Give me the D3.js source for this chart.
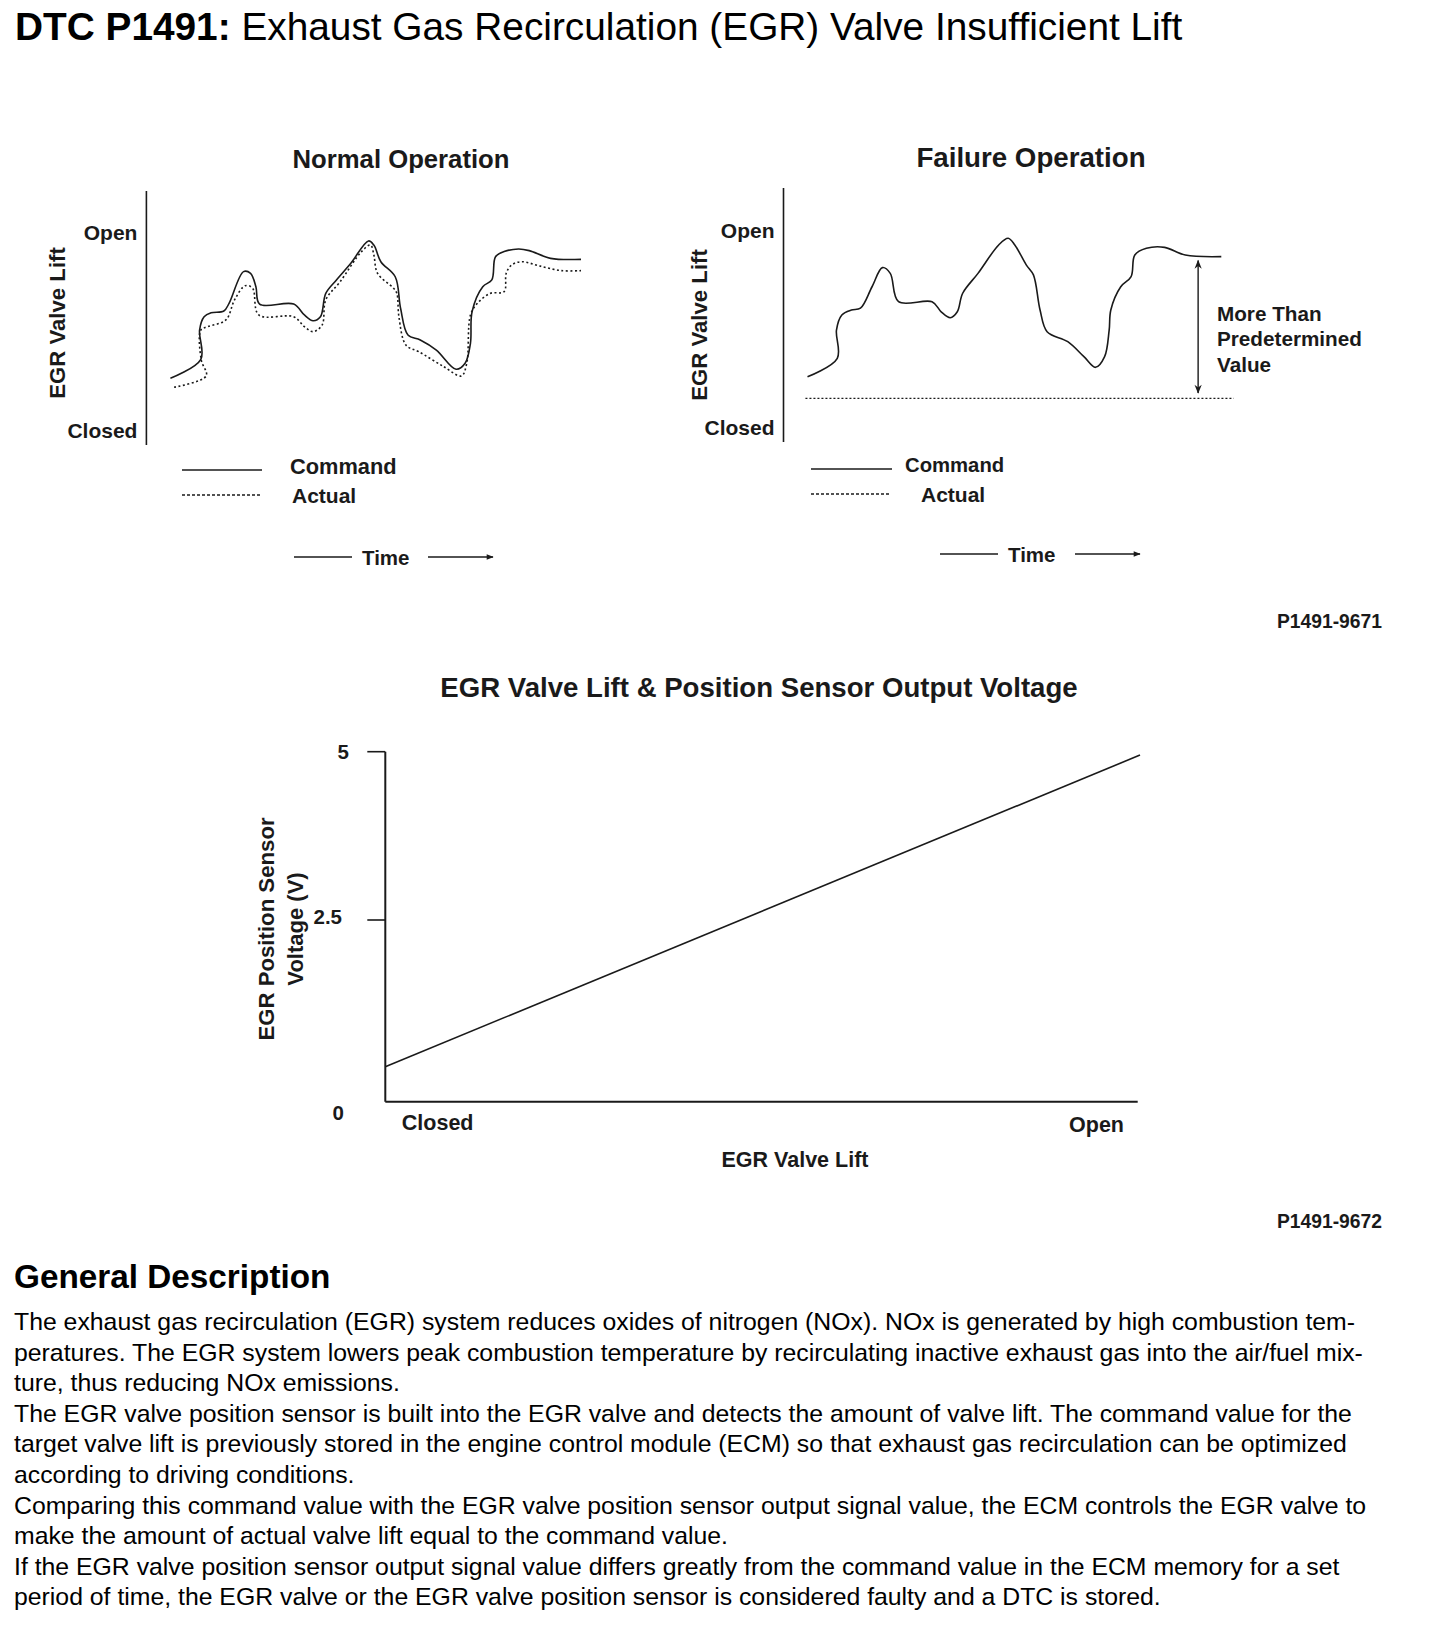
<!DOCTYPE html>
<html><head><meta charset="utf-8">
<script src="https://cdn.jsdelivr.net/npm/d3@7"></script>
<style>
body{margin:0;background:#fff}
svg{display:block}
text{font-family:"Liberation Sans",Arial,Helvetica,sans-serif;fill:#1a1a1a}
</style></head>
<body><svg id="c" width="1440" height="1644"></svg>
<script>
// ---------- data ----------
const lvlLabels = ["Closed", "Open"];
const legendLabels = ["Command", "Actual"];
// time (0-100) , valve lift (0 = Closed, 1 = Open)
const normalCommand = [[0.1,0.266],[7.5,0.362],[7.2,0.51],[8.3,0.577],[10,0.597],[13.1,0.606],[14.4,0.646],[17.9,0.805],[19.6,0.796],[20.9,0.729],[21.8,0.641],[30.1,0.641],[32.7,0.586],[34.8,0.557],[36.6,0.577],[37.9,0.695],[40.5,0.763],[44,0.847],[48.3,0.96],[49.6,0.939],[51.3,0.855],[54.8,0.779],[56.1,0.62],[57.9,0.485],[60.9,0.46],[64.8,0.409],[69.6,0.312],[71.8,0.342],[73.1,0.443],[73.5,0.603],[76.1,0.729],[78.3,0.763],[79.2,0.88],[81.3,0.906],[84.8,0.919],[87.4,0.911],[92.6,0.872],[100,0.867]];
const normalActual = [[1,0.221],[8.8,0.278],[7.6,0.359],[7.5,0.51],[9.2,0.527],[13.6,0.561],[15.7,0.662],[18.3,0.734],[20.1,0.721],[21.6,0.586],[30.1,0.577],[32.7,0.527],[34.8,0.502],[37,0.535],[37.9,0.662],[41.4,0.754],[46.6,0.906],[48.8,0.939],[49.6,0.889],[50.5,0.796],[54.4,0.721],[55.2,0.695],[55.7,0.577],[57.4,0.434],[60.5,0.401],[66.6,0.325],[70.9,0.278],[72.2,0.342],[73.1,0.586],[74.8,0.645],[77.9,0.695],[81.3,0.704],[81.8,0.796],[83.1,0.838],[85.6,0.855],[90,0.833],[95.2,0.81],[100,0.81]];
const failureCommand = [[0,0.26],[7.2,0.354],[7,0.497],[8.3,0.574],[10.6,0.599],[12.8,0.608],[15.6,0.717],[18.1,0.814],[20,0.785],[22,0.641],[30.1,0.641],[32.3,0.59],[34.5,0.56],[36.2,0.59],[37.5,0.684],[41.2,0.785],[46.2,0.929],[48.5,0.963],[50.1,0.929],[52.9,0.827],[54.6,0.777],[56.2,0.599],[57.9,0.489],[62.9,0.438],[66.8,0.362],[69.6,0.308],[71.8,0.362],[72.9,0.497],[73.3,0.599],[75.7,0.717],[78.2,0.768],[79.1,0.878],[81.9,0.912],[86.3,0.917],[91.3,0.878],[100,0.87]];
const failureThreshold = [[-0.5,0.15],[103,0.15]];
const failureArrow = [[94.4,0.85],[94.4,0.178]];
const failureNote = ["More Than", "Predetermined", "Value"];
// lift (0 Closed .. 1 Open), voltage (V)
const sensorLine = [[0,0.32],[1,4.95]];
const voltTicks = [0, 2.5, 5];
const voltTickLabels = ["0", "2.5", "5"];
const bodyLines = [
"The exhaust gas recirculation (EGR) system reduces oxides of nitrogen (NOx). NOx is generated by high combustion tem-",
"peratures. The EGR system lowers peak combustion temperature by recirculating inactive exhaust gas into the air/fuel mix-",
"ture, thus reducing NOx emissions.",
"The EGR valve position sensor is built into the EGR valve and detects the amount of valve lift. The command value for the",
"target valve lift is previously stored in the engine control module (ECM) so that exhaust gas recirculation can be optimized",
"according to driving conditions.",
"Comparing this command value with the EGR valve position sensor output signal value, the ECM controls the EGR valve to",
"make the amount of actual valve lift equal to the command value.",
"If the EGR valve position sensor output signal value differs greatly from the command value in the ECM memory for a set",
"period of time, the EGR valve or the EGR valve position sensor is considered faulty and a DTC is stored."
];

// ---------- drawing ----------
const svg = d3.select("#c");
const INK = "#1a1a1a";

const defs = svg.append("defs");
defs.append("marker").attr("id","ah").attr("viewBox","0 0 10 10")
  .attr("refX",9).attr("refY",5).attr("markerWidth",9).attr("markerHeight",7)
  .attr("markerUnits","userSpaceOnUse").attr("orient","auto-start-reverse")
  .append("path").attr("d","M0,1 L10,5 L0,9 Z").attr("fill",INK);
defs.append("marker").attr("id","ah2").attr("viewBox","0 0 10 10")
  .attr("refX",9).attr("refY",5).attr("markerWidth",12).attr("markerHeight",9)
  .attr("markerUnits","userSpaceOnUse").attr("orient","auto-start-reverse")
  .append("path").attr("d","M0,1 L10,5 L0,9 L3,5 Z").attr("fill",INK);

// Page title
const t = svg.append("text").attr("x",15).attr("y",40).attr("font-size",38.8).style("fill","#000");
t.append("tspan").attr("font-weight","bold").text("DTC P1491:");
t.append("tspan").text(" Exhaust Gas Recirculation (EGR) Valve Insufficient Lift");

function panel(cfg){
  const g = svg.append("g");
  const x = d3.scaleLinear([0,100], cfg.xr);
  const y = d3.scaleLinear([0,1], cfg.yr);
  g.append("text").attr("x",cfg.titleX).attr("y",cfg.titleY).attr("text-anchor","middle")
    .attr("font-weight","bold").attr("font-size",cfg.titleSize).text(cfg.title);
  g.append("line").attr("x1",cfg.axisX).attr("x2",cfg.axisX).attr("y1",cfg.axisY[0]).attr("y2",cfg.axisY[1])
    .attr("stroke",INK).attr("stroke-width",1.6);
  g.selectAll("text.lvl").data([0,1]).join("text").attr("class","lvl")
    .attr("x",cfg.axisX-9).attr("y",d=>y(d)+7).attr("text-anchor","end")
    .attr("font-weight","bold").attr("font-size",21).text(d=>lvlLabels[d]);
  g.append("text").attr("transform",`translate(${cfg.ylabX},${cfg.ylabY}) rotate(-90)`)
    .attr("text-anchor","middle").attr("dy","0.36em").attr("font-weight","bold").attr("font-size",22.2)
    .text("EGR Valve Lift");
  const line = d3.line().x(d=>x(d[0])).y(d=>y(d[1])).curve(d3.curveCatmullRom.alpha(0.5));
  cfg.series.forEach(s=>{
    g.append("path").attr("d",line(s.data)).attr("fill","none").attr("stroke",INK)
      .attr("stroke-width",s.w).attr("stroke-dasharray",s.dash||null).attr("stroke-linejoin","round");
  });
  // legend
  cfg.legend.forEach((L,i)=>{
    g.append("line").attr("x1",L.x1).attr("x2",L.x2).attr("y1",L.ly).attr("y2",L.ly)
      .attr("stroke",INK).attr("stroke-width",1.4).attr("stroke-dasharray",i? "3,2":null);
    g.append("text").attr("x",L.tx).attr("y",L.ty).attr("font-weight","bold").attr("font-size",L.fs).text(legendLabels[i]);
  });
  // time arrow
  const T = cfg.time;
  g.append("line").attr("x1",T.a).attr("x2",T.b).attr("y1",T.y).attr("y2",T.y).attr("stroke",INK).attr("stroke-width",1.4);
  g.append("text").attr("x",T.tx).attr("y",T.y+7.5).attr("font-weight","bold").attr("font-size",20.5).text("Time");
  g.append("line").attr("x1",T.c).attr("x2",T.d).attr("y1",T.y).attr("y2",T.y).attr("stroke",INK).attr("stroke-width",1.4)
    .attr("marker-end","url(#ah)");
  return {g,x,y};
}

const pN = panel({
  title:"Normal Operation", titleX:401, titleY:168, titleSize:25.7,
  xr:[170,581], yr:[431,233], axisX:146.4, axisY:[191,445], ylabX:57, ylabY:323,
  series:[{data:normalCommand,w:1.6},{data:normalActual,w:1.6,dash:"2,2.5"}],
  legend:[{x1:182,x2:262,ly:470,tx:290,ty:474,fs:21.8},{x1:182,x2:262,ly:495,tx:292,ty:503,fs:21}],
  time:{a:294,b:352,y:557,tx:362,c:428,d:493}
});
const pF = panel({
  title:"Failure Operation", titleX:1031, titleY:167, titleSize:27.7,
  xr:[807.5,1221.3], yr:[428,231], axisX:783.5, axisY:[188,442], ylabX:699, ylabY:325,
  series:[{data:failureCommand,w:1.6}],
  legend:[{x1:811,x2:892,ly:469,tx:905,ty:472,fs:20.3},{x1:811,x2:891,ly:494,tx:921,ty:502,fs:21}],
  time:{a:940,b:998,y:554,tx:1008,c:1075,d:1140}
});
// threshold & double arrow
pF.g.append("path").attr("d",d3.line().x(d=>pF.x(d[0])).y(d=>pF.y(d[1]))(failureThreshold))
  .attr("stroke",INK).attr("stroke-width",1.3).attr("stroke-dasharray","2,2").attr("fill","none");
pF.g.append("path").attr("d",d3.line().x(d=>pF.x(d[0])).y(d=>pF.y(d[1]))(failureArrow))
  .attr("stroke",INK).attr("stroke-width",1.4).attr("fill","none")
  .attr("marker-start","url(#ah2)").attr("marker-end","url(#ah2)");
pF.g.selectAll("text.note").data(failureNote).join("text").attr("class","note")
  .attr("x",1217).attr("y",(d,i)=>320.5+i*25.5).attr("font-weight","bold").attr("font-size",20.7).text(d=>d);

svg.append("text").attr("x",1382).attr("y",628).attr("text-anchor","end").attr("font-weight","bold")
  .attr("font-size",19.3).text("P1491-9671");

// ---------- bottom chart ----------
const bx = d3.scaleLinear([0,1],[385.3,1140]);
const by = d3.scaleLinear([0,5],[1088.3,751.7]);
const plotBottom = 1101.7;
const gb = svg.append("g");
gb.append("text").attr("x",759).attr("y",697).attr("text-anchor","middle").attr("font-weight","bold")
  .attr("font-size",27.6).text("EGR Valve Lift & Position Sensor Output Voltage");
gb.append("line").attr("x1",bx(0)).attr("x2",bx(0)).attr("y1",by(5)).attr("y2",plotBottom).attr("stroke",INK).attr("stroke-width",2);
gb.append("line").attr("x1",bx(0)).attr("x2",1137.7).attr("y1",plotBottom).attr("y2",plotBottom).attr("stroke",INK).attr("stroke-width",2);
gb.selectAll("line.tk").data(voltTicks.filter(v=>v>0)).join("line").attr("class","tk")
  .attr("x1",bx(0)-18).attr("x2",bx(0)).attr("y1",d=>by(d)).attr("y2",d=>by(d)).attr("stroke",INK).attr("stroke-width",1.6);
gb.selectAll("text.tl").data(voltTicks).join("text").attr("class","tl")
  .attr("x",d=>d===2.5?342:(d===5?349:344)).attr("y",d=>(d===0?plotBottom+11:(d===2.5?by(d)-3:by(d)))+7)
  .attr("text-anchor","end").attr("font-weight","bold").attr("font-size",20.5).text((d,i)=>voltTickLabels[i]);
gb.append("path").attr("d",d3.line().x(d=>bx(d[0])).y(d=>by(d[1]))(sensorLine))
  .attr("stroke",INK).attr("stroke-width",1.6).attr("fill","none");
gb.append("text").attr("x",bx(0)+16.5).attr("y",1130).attr("font-weight","bold").attr("font-size",21.5).text(lvlLabels[0]);
gb.append("text").attr("x",bx(1)-16).attr("y",1131.5).attr("text-anchor","end").attr("font-weight","bold").attr("font-size",21.5).text(lvlLabels[1]);
gb.append("text").attr("x",795).attr("y",1167).attr("text-anchor","middle").attr("font-weight","bold").attr("font-size",21.5).text("EGR Valve Lift");
gb.append("text").attr("transform","translate(266,929) rotate(-90)").attr("text-anchor","middle").attr("dy","0.36em")
  .attr("font-weight","bold").attr("font-size",22.2).text("EGR Position Sensor");
gb.append("text").attr("transform","translate(295,929) rotate(-90)").attr("text-anchor","middle").attr("dy","0.36em")
  .attr("font-weight","bold").attr("font-size",22).text("Voltage (V)");
svg.append("text").attr("x",1382).attr("y",1228).attr("text-anchor","end").attr("font-weight","bold")
  .attr("font-size",19.3).text("P1491-9672");

// ---------- description ----------
svg.append("text").attr("x",14).attr("y",1288).attr("font-weight","bold").attr("font-size",33.3).style("fill","#000")
  .text("General Description");
svg.selectAll("text.body").data(bodyLines).join("text").attr("class","body")
  .attr("x",14).attr("y",(d,i)=>1330+i*30.6).attr("font-size",24.8).style("fill","#000").text(d=>d);
</script></body></html>
